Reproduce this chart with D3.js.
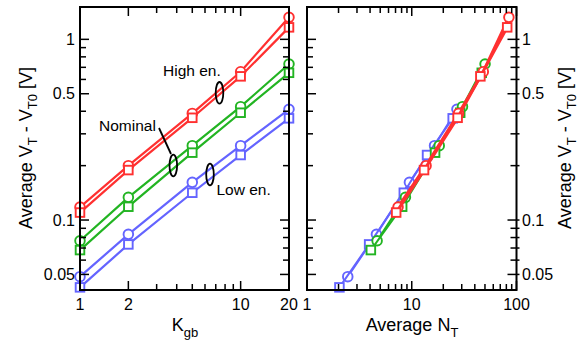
<!DOCTYPE html>
<html><head><meta charset="utf-8">
<script src="https://cdn.jsdelivr.net/npm/d3@7"></script>
<style>
body{margin:0;background:#fff}
svg{display:block}
text{font-family:"Liberation Sans",Arial,Helvetica,sans-serif;fill:#000}
</style>
</head><body>
<svg id="chart" width="584" height="347"></svg>
<script>
// ---------- data ----------
const kgbValues = [1, 2, 5, 10, 20];

const highCircleVt    = [0.118, 0.200, 0.389, 0.662, 1.324];
const highSquareVt    = [0.110, 0.189, 0.368, 0.624, 1.165];
const nominalCircleVt = [0.0768, 0.1335, 0.258, 0.424, 0.730];
const nominalSquareVt = [0.0682, 0.1185, 0.236, 0.3925, 0.653];
const lowCircleVt     = [0.0486, 0.0833, 0.1617, 0.258, 0.410];
const lowSquareVt     = [0.0424, 0.0733, 0.1416, 0.229, 0.3655];

const highCircleNt    = [7.4, 13.7, 28, 48.2, 84.6];
const highSquareNt    = [7.1, 13.1, 27.4, 45.2, 81.5];
const nominalCircleNt = [4.67, 8.7, 18.3, 30.5, 50.1];
const nominalSquareNt = [4.07, 8.1, 16.7, 29, 46.6];
const lowCircleNt     = [2.45, 4.6, 9.5, 16.5, 27];
const lowSquareNt     = [2.04, 3.92, 8.4, 14, 24.6];

const yMajorTicks = [0.05, 0.1, 0.5, 1];
const yTickLabels = ["0.05", "0.1", "0.5", "1"];
const yMinorTicks = [0.06, 0.07, 0.08, 0.09, 0.2, 0.3, 0.4, 0.6, 0.7, 0.8, 0.9];
const kgbMajorTicks = [1, 2, 10, 20];
const kgbTickLabels = ["1", "2", "10", "20"];
const kgbMinorTicks = [3, 4, 5, 6, 7, 8, 9];
const ntMajorTicks = [1, 10, 100];
const ntTickLabels = ["1", "10", "100"];
const ntMinorTicks = [2, 3, 4, 5, 6, 7, 8, 9, 20, 30, 40, 50, 60, 70, 80, 90];

const annotations = ["High en.", "Nominal", "Low en."];

// ---------- styles ----------
const COLORS = {low: "#6464ff", nominal: "#22b422", high: "#ff3030"};
const seriesDefs = [
  {group: "low",     shape: "circle", vt: lowCircleVt,     nt: lowCircleNt,     rw: 2},
  {group: "low",     shape: "square", vt: lowSquareVt,     nt: lowSquareNt,     rw: 2},
  {group: "nominal", shape: "circle", vt: nominalCircleVt, nt: nominalCircleNt, rw: 2},
  {group: "nominal", shape: "square", vt: nominalSquareVt, nt: nominalSquareNt, rw: 2},
  {group: "high",    shape: "circle", vt: highCircleVt,    nt: highCircleNt,    rw: 3},
  {group: "high",    shape: "square", vt: highSquareVt,    nt: highSquareNt,    rw: 3}
];

const svg = d3.select("#chart");
const plotTop = 7, plotBottom = 290;
const y = d3.scaleLog().domain([0.041, 1.51]).range([plotBottom, plotTop]);
const xL = d3.scaleLog().domain([1, 20]).range([80, 289]);
const xR = d3.scaleLog().domain([1, 100]).range([307, 516.5]);

const MAJ = 9, MIN = 6;

function drawFrame(x0, x1) {
  svg.append("rect").attr("x", x0).attr("y", plotTop).attr("width", x1 - x0).attr("height", plotBottom - plotTop)
    .attr("fill", "none").attr("stroke", "#000").attr("stroke-width", 2);
}

function drawYTicks(x0, x1, rightOut) {
  const g = svg.append("g").attr("stroke", "#000").attr("stroke-width", 1.5);
  yMajorTicks.forEach(v => {
    g.append("line").attr("x1", x0).attr("x2", x0 + MAJ).attr("y1", y(v)).attr("y2", y(v));
    g.append("line").attr("x1", x1 - MAJ).attr("x2", x1 + (rightOut ? 3 : 0)).attr("y1", y(v)).attr("y2", y(v));
  });
  yMinorTicks.forEach(v => {
    g.append("line").attr("x1", x0).attr("x2", x0 + MIN).attr("y1", y(v)).attr("y2", y(v));
    g.append("line").attr("x1", x1 - MIN).attr("x2", x1 + (rightOut ? 3 : 0)).attr("y1", y(v)).attr("y2", y(v));
  });
}

function drawXTicks(x, majors, minors) {
  const g = svg.append("g").attr("stroke", "#000").attr("stroke-width", 1.5);
  majors.forEach(v => {
    g.append("line").attr("x1", x(v)).attr("x2", x(v)).attr("y1", plotBottom).attr("y2", plotBottom - MAJ);
    g.append("line").attr("x1", x(v)).attr("x2", x(v)).attr("y1", plotTop).attr("y2", plotTop + MAJ);
  });
  minors.forEach(v => {
    g.append("line").attr("x1", x(v)).attr("x2", x(v)).attr("y1", plotBottom).attr("y2", plotBottom - MIN);
    g.append("line").attr("x1", x(v)).attr("x2", x(v)).attr("y1", plotTop).attr("y2", plotTop + MIN);
  });
}

function drawXLabels(x, majors, labels) {
  majors.forEach((v, i) => {
    svg.append("text").attr("x", x(v)).attr("y", 310).attr("text-anchor", "middle")
      .attr("font-size", 16).text(labels[i]);
  });
}

function drawSeries(x, key, lineW) {
  seriesDefs.forEach(s => {
    const pts = kgbValues.map((k, i) => [key === "kgb" ? k : s.nt[i], s.vt[i]]);
    const col = COLORS[s.group];
    svg.append("path").datum(pts)
      .attr("d", d3.line().x(d => x(d[0])).y(d => y(d[1])))
      .attr("fill", "none").attr("stroke", col)
      .attr("stroke-width", lineW ? s.rw : 2.2).attr("stroke-linejoin", "round");
    const g = svg.append("g");
    pts.forEach(p => {
      if (s.shape === "circle") {
        g.append("circle").attr("cx", x(p[0])).attr("cy", y(p[1])).attr("r", 4.8)
          .attr("fill", "#fff").attr("stroke", col).attr("stroke-width", 1.9);
      } else {
        g.append("rect").attr("x", x(p[0]) - 4.3).attr("y", y(p[1]) - 4.3).attr("width", 8.6).attr("height", 8.6)
          .attr("fill", "#fff").attr("stroke", col).attr("stroke-width", 1.9);
      }
    });
  });
}

// Left panel
drawSeries(xL, "kgb", false);
drawFrame(80, 289);
drawYTicks(80, 289, false);
drawXTicks(xL, kgbMajorTicks, kgbMinorTicks);
drawXLabels(xL, kgbMajorTicks, kgbTickLabels);
yMajorTicks.forEach((v, i) => {
  svg.append("text").attr("x", 75).attr("y", y(v)).attr("dy", "0.36em")
    .attr("text-anchor", "end").attr("font-size", 16).text(yTickLabels[i]);
});

// Right panel
drawSeries(xR, "nt", true);
drawFrame(307, 516.5);
drawYTicks(307, 516.5, true);
drawXTicks(xR, ntMajorTicks, ntMinorTicks);
drawXLabels(xR, ntMajorTicks, ntTickLabels);
yMajorTicks.forEach((v, i) => {
  svg.append("text").attr("x", 522).attr("y", y(v)).attr("dy", "0.36em")
    .attr("text-anchor", "start").attr("font-size", 16).text(yTickLabels[i]);
});

// Axis titles
const kt = svg.append("text").attr("x", 185).attr("y", 331).attr("text-anchor", "middle").attr("font-size", 18);
kt.append("tspan").text("K");
kt.append("tspan").attr("font-size", 13).attr("dy", 6).text("gb");

const ntT = svg.append("text").attr("x", 412).attr("y", 331).attr("text-anchor", "middle").attr("font-size", 18);
ntT.append("tspan").text("Average N");
ntT.append("tspan").attr("font-size", 13).attr("dy", 6).text("T");

function yTitle(cx) {
  const t = svg.append("text").attr("transform", `translate(${cx},148) rotate(-90)`)
    .attr("text-anchor", "middle").attr("font-size", 18);
  t.append("tspan").text("Average V");
  t.append("tspan").attr("font-size", 13).attr("dy", 5).text("T");
  t.append("tspan").attr("dy", -5).text(" - V");
  t.append("tspan").attr("font-size", 13).attr("dy", 5).text("T0");
  t.append("tspan").attr("dy", -5).text(" [V]");
}
yTitle(32);
yTitle(571);

// Annotations
svg.append("text").attr("x", 163).attr("y", 76).attr("font-size", 15.5).text(annotations[0]);
svg.append("text").attr("x", 99).attr("y", 131).attr("font-size", 15.5).text(annotations[1]);
svg.append("text").attr("x", 216.5).attr("y", 195).attr("font-size", 15.5).text(annotations[2]);
const ell = [[219.5, 92.8], [173.3, 165.5], [210, 174.5]];
ell.forEach(e => svg.append("ellipse").attr("cx", e[0]).attr("cy", e[1]).attr("rx", 3.8).attr("ry", 10.8)
  .attr("fill", "none").attr("stroke", "#000").attr("stroke-width", 1.8));
svg.append("line").attr("x1", 159).attr("y1", 128).attr("x2", 171).attr("y2", 154)
  .attr("stroke", "#000").attr("stroke-width", 1.8);
</script>
</body></html>
